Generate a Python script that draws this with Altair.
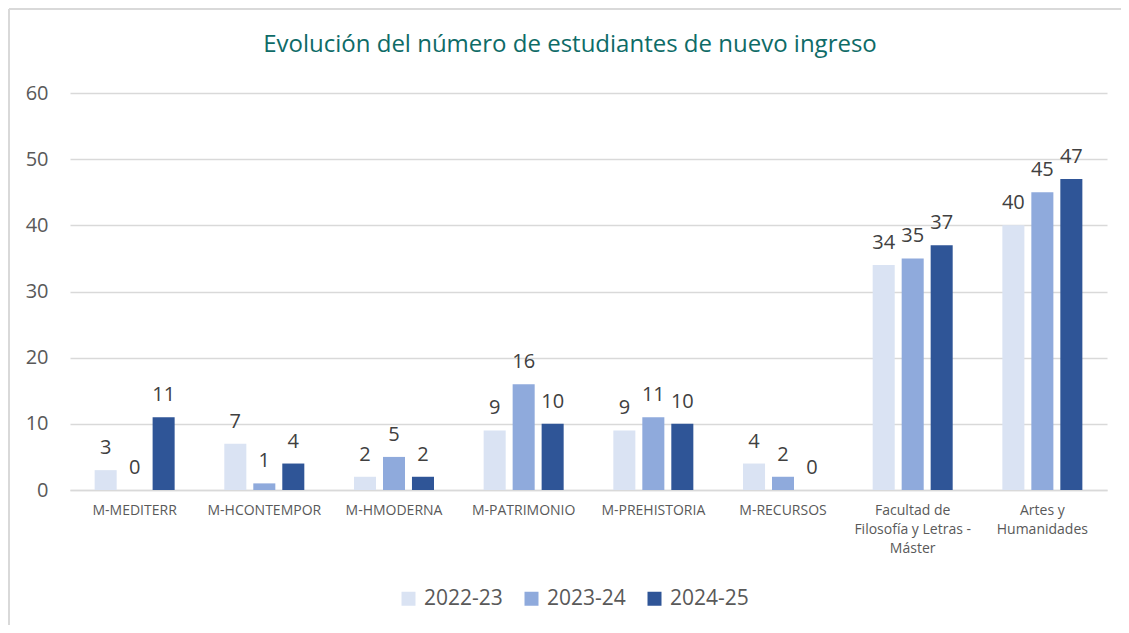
import altair as alt
import pandas as pd

categories = ["M-MEDITERR", "M-HCONTEMPOR", "M-HMODERNA", "M-PATRIMONIO",
              "M-PREHISTORIA", "M-RECURSOS",
              "Facultad de Filosofía y Letras - Máster", "Artes y Humanidades"]
years = ["2022-23", "2023-24", "2024-25"]
v2022 = [3, 7, 2, 9, 9, 4, 34, 40]
v2023 = [0, 1, 5, 16, 11, 2, 35, 45]
v2024 = [11, 4, 2, 10, 10, 0, 37, 47]
colors = ["#DAE3F3", "#8FAADC", "#2F5597"]
title_text = ["Evolución del número de estudiantes de nuevo ingreso"]

rows = []
for series, vals in zip(years, [v2022, v2023, v2024]):
    for c, v in zip(categories, vals):
        rows.append({"cat": c, "year": series, "value": v})
df = pd.DataFrame(rows)

FONT = "Open Sans"

label_expr = ("datum.label == 'Facultad de Filosofía y Letras - Máster' ? "
              "['Facultad de', 'Filosofía y Letras -', 'Máster'] : "
              "datum.label == 'Artes y Humanidades' ? ['Artes y', 'Humanidades'] : datum.label")

base = alt.Chart(df).encode(
    x=alt.X("cat:N", sort=categories,
            scale=alt.Scale(paddingInner=0.383, paddingOuter=0.19),
            axis=alt.Axis(title=None, labelAngle=0, labelFont=FONT, labelFontSize=14,
                          labelColor="#595959", labelPadding=13, ticks=False,
                          domainColor="#D9D9D9", domainWidth=1.5,
                          labelExpr=label_expr, labelLineHeight=19, labelBaseline="top")),
    xOffset=alt.XOffset("year:N", sort=years, scale=alt.Scale(paddingInner=0.24)),
)

bars = base.mark_bar().encode(
    y=alt.Y("value:Q", scale=alt.Scale(domain=[0, 60]),
            axis=alt.Axis(title=None, values=[0, 10, 20, 30, 40, 50, 60],
                          labelFont=FONT, labelFontSize=20, labelColor="#595959",
                          labelPadding=22, ticks=False, domain=False,
                          gridColor="#D9D9D9", gridWidth=1.5)),
    color=alt.Color("year:N", sort=years,
                    scale=alt.Scale(domain=years, range=colors),
                    legend=alt.Legend(title=None, orient="none", direction="horizontal",
                                      legendX=328, legendY=495,
                                      symbolType="square", symbolSize=196,
                                      symbolStrokeWidth=0, symbolOpacity=1,
                                      labelFont=FONT, labelFontSize=21,
                                      labelColor="#595959", columnPadding=18,
                                      labelOffset=5)),
)

texts = base.mark_text(baseline="alphabetic", dy=-16, font=FONT, fontSize=20,
                       color="#404040").encode(
    y="value:Q",
    text="value:Q",
)

title_df = pd.DataFrame({"t": title_text})
title = alt.Chart(title_df).mark_text(font=FONT, fontSize=24, color="#0E6B67",
                                      align="center", baseline="middle").encode(
    x=alt.value(500), y=alt.value(-48), text="t:N")

border_df = pd.DataFrame({"k": [0]})
left_line = alt.Chart(border_df).mark_rule(color="#D9D9D9", strokeWidth=2).encode(
    x=alt.value(-61), y=alt.value(-84), y2=alt.value(532))
top_line = alt.Chart(border_df).mark_rule(color="#D9D9D9", strokeWidth=2).encode(
    x=alt.value(-61), x2=alt.value(1051), y=alt.value(-84))

chart = alt.layer(left_line, top_line, bars, texts, title).properties(
    width=1037, height=397,
    autosize=alt.AutoSizeParams(type="none"),
    padding={"left": 62, "top": 85, "right": 14, "bottom": 135},
).configure(background="white").configure_view(strokeWidth=0, stroke="transparent")

chart.save("out.html", embed_options={"renderer": "svg", "actions": False})
